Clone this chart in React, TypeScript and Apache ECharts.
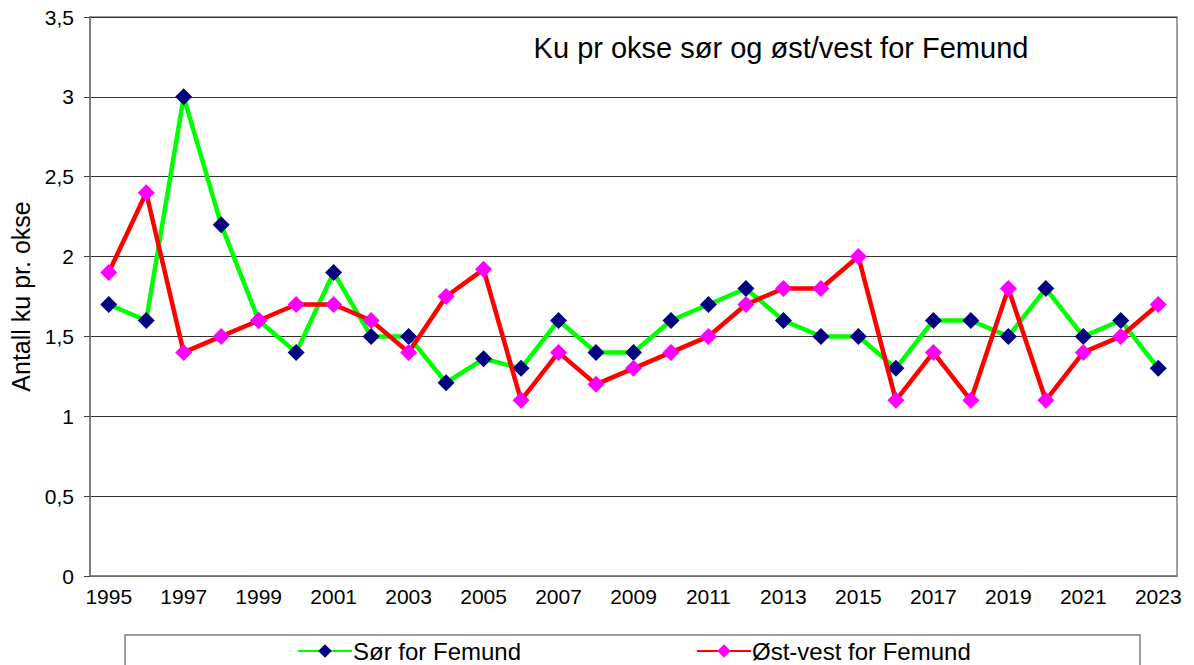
import React, { useEffect, useRef } from "react";
import * as echarts from "echarts";

const years = [
  "1995","1996","1997","1998","1999","2000","2001","2002","2003","2004",
  "2005","2006","2007","2008","2009","2010","2011","2012","2013","2014",
  "2015","2016","2017","2018","2019","2020","2021","2022","2023",
];
const sor = [
  1.7, 1.6, 3.0, 2.2, 1.6, 1.4, 1.9, 1.5, 1.5, 1.21,
  1.36, 1.3, 1.6, 1.4, 1.4, 1.6, 1.7, 1.8, 1.6, 1.5,
  1.5, 1.3, 1.6, 1.6, 1.5, 1.8, 1.5, 1.6, 1.3,
];
const ostVest = [
  1.9, 2.4, 1.4, 1.5, 1.6, 1.7, 1.7, 1.6, 1.4, 1.75,
  1.92, 1.1, 1.4, 1.2, 1.3, 1.4, 1.5, 1.7, 1.8, 1.8,
  2.0, 1.1, 1.4, 1.1, 1.8, 1.1, 1.4, 1.5, 1.7,
];
const seriesNames = ["Sør for Femund", "Øst-vest for Femund"];
const title = "Ku pr okse sør og øst/vest for Femund";
const yName = "Antall ku pr. okse";

const FONT = "'Liberation Sans', Arial, sans-serif";

export default function App() {
  const ref = useRef<HTMLDivElement>(null);
  useEffect(() => {
    const chart = echarts.init(ref.current!, null, { renderer: "svg" });
    chart.setOption({
      animation: false,
      textStyle: { fontFamily: FONT },
      title: {
        text: title,
        left: 776,
        top: 28,
        textAlign: "center",
        textStyle: { fontFamily: FONT, fontSize: 29, fontWeight: "normal", color: "#000" },
      },
      grid: {
        left: 90, right: 17, top: 17, bottom: 89,
        outerBoundsMode: "none",
        containLabel: false,
        show: true, borderColor: "#808080", borderWidth: 1.5,
      },
      legend: [
        {
          data: [seriesNames[0]],
          left: 292, top: 634,
          itemWidth: 54, itemHeight: 17,
          itemGap: 0,
          textStyle: { fontFamily: FONT, fontSize: 24, color: "#000", padding: [0, 0, 0, -4] },
        },
        {
          data: [seriesNames[1]],
          left: 691, top: 634,
          itemWidth: 54, itemHeight: 17,
          itemGap: 0,
          textStyle: { fontFamily: FONT, fontSize: 24, color: "#000", padding: [0, 0, 0, -4] },
        },
      ],
      graphic: [
        {
          type: "rect",
          shape: { x: 125, y: 635, width: 1015, height: 60 },
          style: { fill: "none", stroke: "#808080", lineWidth: 1.5 },
          z: -1,
        },
      ],
      xAxis: {
        type: "category",
        data: years,
        boundaryGap: true,
        axisLine: { lineStyle: { color: "#808080", width: 1.5 } },
        axisTick: { interval: 0, length: 6, lineStyle: { color: "#404040" } },
        axisLabel: { interval: 1, color: "#000", fontSize: 21, fontFamily: FONT, margin: 10 },
      },
      yAxis: {
        type: "value",
        min: 0, max: 3.5, interval: 0.5,
        name: yName,
        nameLocation: "middle",
        nameGap: 56,
        nameTextStyle: { fontFamily: FONT, fontSize: 25, color: "#000" },
        axisLine: { show: true, lineStyle: { color: "#808080", width: 2 } },
        axisTick: { show: true, length: 6, lineStyle: { color: "#404040" } },
        axisLabel: {
          color: "#000", fontSize: 21, fontFamily: FONT, margin: 16,
          formatter: (v: number) => String(v).replace(".", ","),
        },
        splitLine: { lineStyle: { color: "#333", width: 1 } },
      },
      series: [
        {
          name: seriesNames[0],
          type: "line",
          data: sor,
          symbol: "diamond",
          symbolSize: 17,
          lineStyle: { color: "#00ff00", width: 4.5 },
          itemStyle: { color: "#000080" },
          z: 2,
        },
        {
          name: seriesNames[1],
          type: "line",
          data: ostVest,
          symbol: "diamond",
          symbolSize: 17,
          lineStyle: { color: "#ff0000", width: 4.5 },
          itemStyle: { color: "#ff00ff" },
          z: 3,
        },
      ],
    });
    return () => chart.dispose();
  }, []);
  return <div ref={ref} style={{ width: 1194, height: 665, position: "absolute", left: 0, top: 0 }} />;
}
